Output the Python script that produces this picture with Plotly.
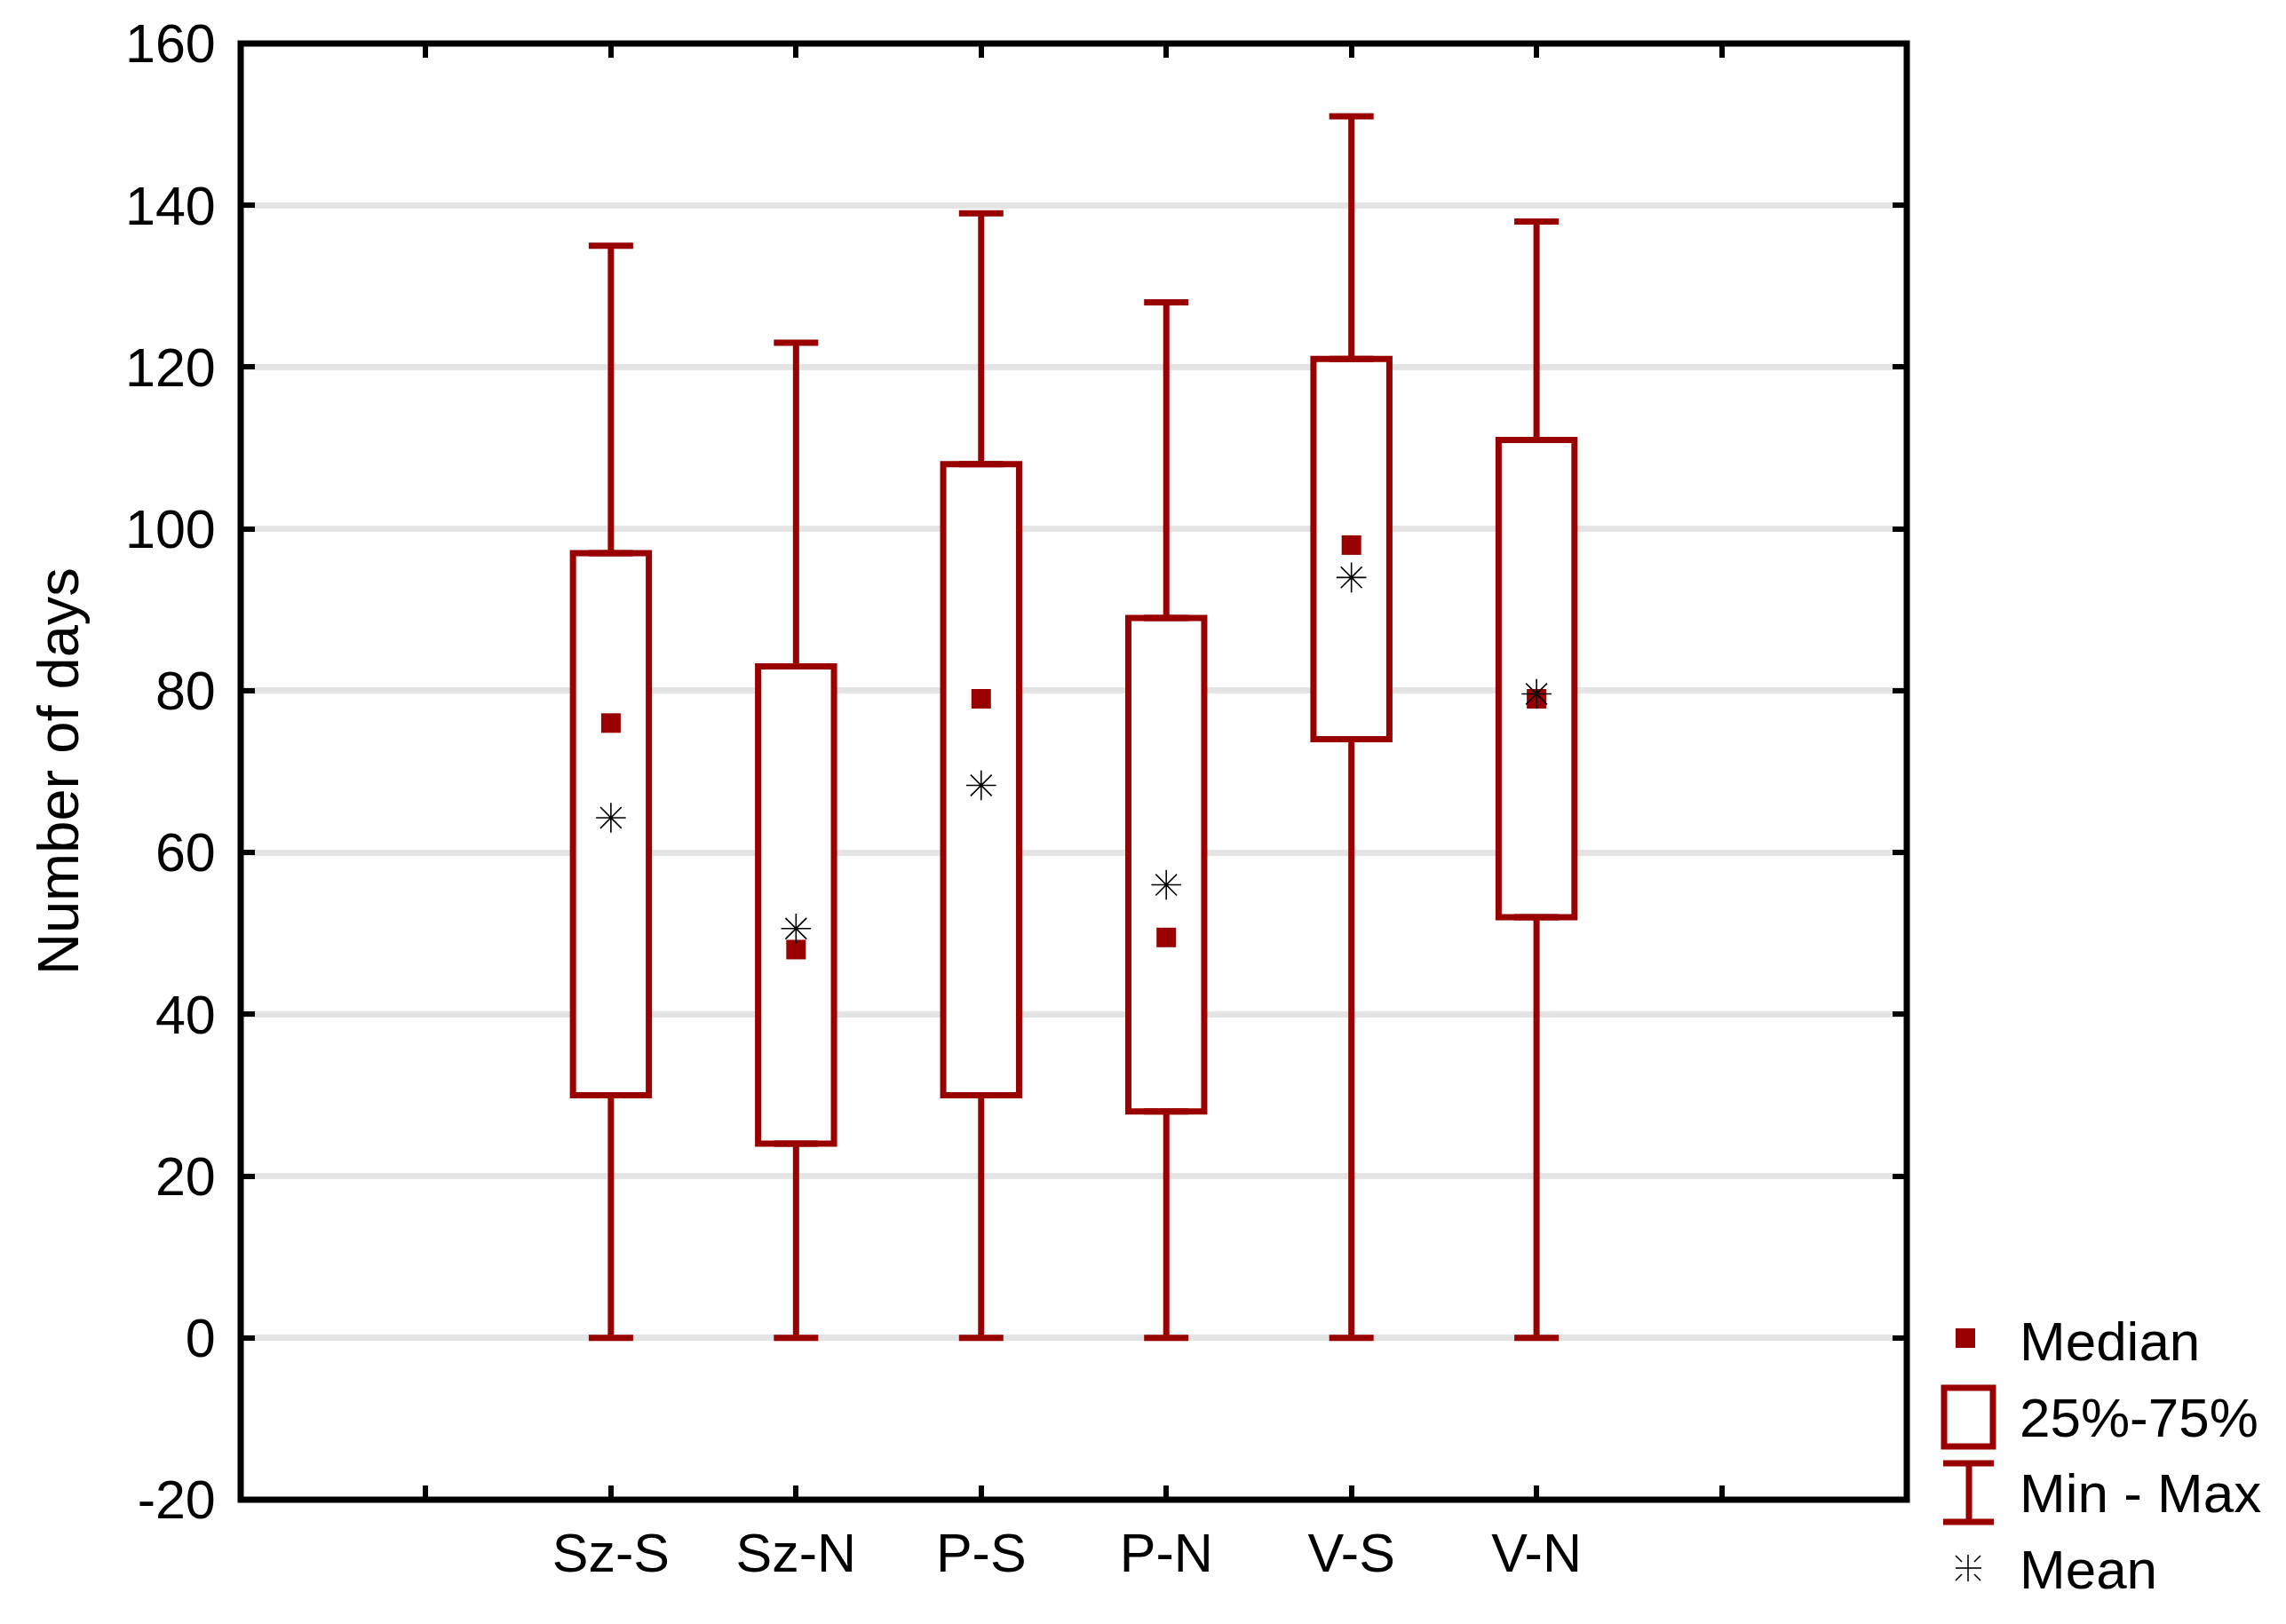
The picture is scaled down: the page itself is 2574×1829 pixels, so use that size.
import plotly.graph_objects as go

# ---- data ----
categories = ["Sz-S", "Sz-N", "P-S", "P-N", "V-S", "V-N"]
minimum = [0, 0, 0, 0, 0, 0]
q1 = [30, 24, 30, 28, 74, 52]
median = [76, 48, 79, 49.5, 98, 79]
mean = [64.3, 50.6, 68.3, 56, 94, 79.6]
q3 = [97, 83, 108, 89, 121, 111]
maximum = [135, 123, 139, 128, 151, 138]

y_ticks = [-20, 0, 20, 40, 60, 80, 100, 120, 140, 160]
y_ticktext = ["-20", "0", "20", "40", "60", "80", "100", "120", "140", "160"]
legend_labels = ["Median", "25%-75%", "Min - Max", "Mean"]

# page body has an 8px margin; compensate so the screenshot lines up
OFF = 8
SW, SH = 2574, 1829
W, H = SW - 2 * OFF, SH - 2 * OFF
RED = "#990000"
FONT = "Liberation Sans, Arial, sans-serif"
FS = 61

# plot frame in screen pixels
L, R, T, B = 271, 2147, 49, 1689

xs = list(range(2, 2 + len(categories)))
tickvals = list(range(1, len(categories) + 3))
ticktext = [""] + categories + [""]


def px(x):
    return (x - OFF) / W


def py(y):
    return 1 - (y - OFF) / H


fig = go.Figure()

# upper whiskers
fig.add_trace(go.Scatter(
    x=xs, y=q3, mode="markers", marker=dict(size=1, opacity=0),
    error_y=dict(type="data", symmetric=False,
                 array=[mx - b for mx, b in zip(maximum, q3)],
                 arrayminus=[0] * len(q3),
                 color=RED, thickness=7, width=25),
    showlegend=False, hoverinfo="skip"))
# lower whiskers
fig.add_trace(go.Scatter(
    x=xs, y=q1, mode="markers", marker=dict(size=1, opacity=0),
    error_y=dict(type="data", symmetric=False,
                 array=[0] * len(q1),
                 arrayminus=[a - mn for a, mn in zip(q1, minimum)],
                 color=RED, thickness=7, width=25),
    showlegend=False, hoverinfo="skip"))

# boxes
fig.add_trace(go.Bar(
    x=xs, base=q1, y=[b - a for a, b in zip(q1, q3)], width=0.41,
    marker=dict(color="white", line=dict(color=RED, width=7)),
    showlegend=False, hoverinfo="skip"))

# median
fig.add_trace(go.Scatter(
    x=xs, y=median, mode="markers",
    marker=dict(symbol="square", size=22, color=RED, line=dict(width=0)),
    showlegend=False))
# mean
fig.add_trace(go.Scatter(
    x=xs, y=mean, mode="markers",
    marker=dict(symbol="asterisk-open", size=28, color="black",
                line=dict(color="black", width=1.6)),
    showlegend=False))


# ---- frame + manual legend (shapes in paper coordinates) ----
def seg(x0, y0, x1, y1, color, width):
    return dict(type="line", xref="paper", yref="paper",
                x0=px(x0), x1=px(x1), y0=py(y0), y1=py(y1),
                line=dict(color=color, width=width))


shapes = [
    # plot frame centred on the axis range ends
    dict(type="rect", xref="paper", yref="paper",
         x0=px(L), x1=px(R), y0=py(B), y1=py(T),
         line=dict(color="black", width=7), fillcolor="rgba(0,0,0,0)",
         layer="above"),
    # median square
    dict(type="rect", xref="paper", yref="paper",
         x0=px(2202), x1=px(2224), y0=py(1496), y1=py(1518),
         line=dict(width=0), fillcolor=RED),
    # box
    dict(type="rect", xref="paper", yref="paper",
         x0=px(2189), x1=px(2244), y0=py(1563), y1=py(1629),
         line=dict(color=RED, width=7), fillcolor="white"),
    # min-max
    seg(2188, 1648, 2245, 1648, RED, 7),
    seg(2188, 1714, 2245, 1714, RED, 7),
    seg(2217, 1648, 2217, 1714, RED, 7),
    # mean asterisk
    seg(2216, 1751, 2216, 1781, "black", 1.6),
    seg(2202, 1766, 2231, 1766, "black", 1.6),
    seg(2202, 1752, 2209, 1759, "black", 1.6),
    seg(2230, 1752, 2223, 1759, "black", 1.6),
    seg(2202, 1780, 2209, 1773, "black", 1.6),
    seg(2230, 1780, 2223, 1773, "black", 1.6),
]

legend_y = [1510, 1596, 1681, 1767]
annotations = [
    dict(text=lab, xref="paper", yref="paper", x=px(2272), y=py(yy),
         xanchor="left", yanchor="middle", showarrow=False,
         font=dict(family=FONT, size=62, color="black"))
    for lab, yy in zip(legend_labels, legend_y)
]
annotations.append(dict(
    text="Number of days", xref="paper", yref="paper", x=px(66), y=py((T + B) / 2),
    textangle=-90, xanchor="center", yanchor="middle", showarrow=False,
    font=dict(family=FONT, size=65, color="black")))

fig.update_layout(
    width=W, height=H,
    margin=dict(l=0, r=0, t=0, b=0),
    paper_bgcolor="white", plot_bgcolor="white",
    font=dict(family=FONT, size=FS, color="black"),
    barmode="overlay",
    showlegend=False,
    shapes=shapes,
    annotations=annotations,
    xaxis=dict(
        domain=[px(L), px(R)], range=[0, len(categories) + 3],
        tickvals=tickvals, ticktext=ticktext,
        showline=True, linecolor="black", linewidth=1, mirror="ticks",
        ticks="inside", ticklen=16, tickwidth=6, tickcolor="black",
        showgrid=False, zeroline=False, automargin=False,
        ticklabelstandoff=7,
        tickfont=dict(family=FONT, size=FS, color="black"),
    ),
    yaxis=dict(
        domain=[py(B), py(T)], range=[-20, 160],
        tickvals=y_ticks, ticktext=y_ticktext,
        showline=True, linecolor="black", linewidth=1, mirror="ticks",
        ticks="inside", ticklen=16, tickwidth=6, tickcolor="black",
        showgrid=True, gridcolor="#e4e4e4", gridwidth=7,
        zeroline=False, automargin=False,
        ticklabelstandoff=15,
        tickfont=dict(family=FONT, size=FS, color="black"),
    ),
)

fig.write_html("out.html")
